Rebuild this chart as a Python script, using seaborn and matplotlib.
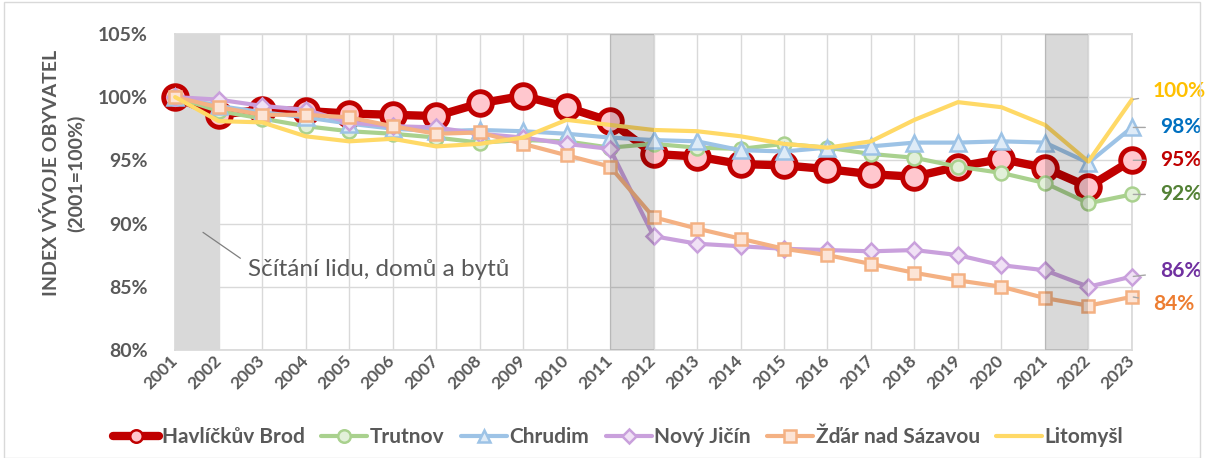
import pandas as pd
import matplotlib.pyplot as plt
import seaborn as sns
from matplotlib.lines import Line2D
from matplotlib.patches import Rectangle

sns.set_theme(style="white")
plt.rcParams['font.family'] = ['Lato', 'DejaVu Sans']

years = list(range(2001, 2024))

havlickuv_brod = [100.0, 98.6, 99.0, 98.9, 98.7, 98.6, 98.5, 99.5, 100.1, 99.2, 98.1,
                  95.5, 95.3, 94.7, 94.6, 94.3, 93.9, 93.7, 94.5, 95.1, 94.4, 92.9, 95.0]
trutnov = [100.0, 98.9, 98.3, 97.7, 97.3, 97.1, 96.8, 96.4, 96.6, 96.5, 96.0,
           96.3, 96.0, 95.9, 96.3, 96.0, 95.5, 95.2, 94.5, 94.0, 93.2, 91.6, 92.3]
chrudim = [100.0, 99.3, 98.8, 98.4, 97.9, 97.5, 97.3, 97.4, 97.3, 97.1, 96.8,
           96.6, 96.5, 95.8, 95.7, 96.0, 96.1, 96.4, 96.4, 96.5, 96.4, 94.8, 97.6]
novy_jicin = [100.0, 99.8, 99.3, 99.0, 98.0, 97.7, 97.6, 97.1, 96.8, 96.3, 95.9,
              89.0, 88.4, 88.2, 88.0, 87.9, 87.8, 87.9, 87.5, 86.7, 86.3, 85.0, 85.8]
zdar = [100.0, 99.2, 98.6, 98.6, 98.4, 97.7, 97.1, 97.2, 96.3, 95.4, 94.5,
        90.5, 89.6, 88.8, 88.0, 87.5, 86.8, 86.1, 85.5, 85.0, 84.1, 83.5, 84.2]
litomysl = [100.0, 98.1, 98.0, 96.9, 96.5, 96.7, 96.1, 96.3, 96.8, 98.2, 97.8,
            97.4, 97.3, 96.9, 96.3, 96.0, 96.5, 98.2, 99.6, 99.2, 97.8, 94.9, 99.8]

census_bands = [(2001, 2002), (2011, 2012), (2021, 2022)]
end_labels = ["95%", "92%", "98%", "86%", "84%", "100%"]

grey = '#595959'
fig = plt.figure(figsize=(12.08, 4.58), dpi=100)
ax = fig.add_axes([0.145, 0.236, 0.792, 0.69])

series = [
    ("Havlíčkův Brod", havlickuv_brod, dict(color='#c00000', marker='o', markersize=17,
        markerfacecolor='#ffc7ce', markeredgecolor='#c00000', markeredgewidth=3.5, linewidth=6),
        '#c00000', (20, 0)),
    ("Trutnov", trutnov, dict(color='#a9d18e', marker='o', markersize=10,
        markerfacecolor='#e2f0d9', markeredgecolor='#a9d18e', markeredgewidth=1.8, linewidth=3),
        '#538135', (20, 0)),
    ("Chrudim", chrudim, dict(color='#9dc3e6', marker='^', markersize=11,
        markerfacecolor='#deebf7', markeredgecolor='#9dc3e6', markeredgewidth=1.8, linewidth=3),
        '#0070c0', (20, 0)),
    ("Nový Jičín", novy_jicin, dict(color='#c9a0dc', marker='D', markersize=8,
        markerfacecolor='#f0e1f5', markeredgecolor='#c9a0dc', markeredgewidth=1.8, linewidth=3),
        '#7030a0', (20, 4)),
    ("Žďár nad Sázavou", zdar, dict(color='#f4b183', marker='s', markersize=9,
        markerfacecolor='#fce4d6', markeredgecolor='#f4b183', markeredgewidth=1.8, linewidth=3),
        '#ed7d31', (15, -5)),
    ("Litomyšl", litomysl, dict(color='#ffd966', linewidth=3),
        '#ffc000', (15, 6)),
]

# first census band sits behind the lines
ax.axvspan(*census_bands[0], color='#d9d9d9', zorder=0.5, lw=0)

for i, (name, vals, style, lab_color, offset) in enumerate(series):
    sns.lineplot(x=years, y=vals, ax=ax, label=name, clip_on=False, zorder=3 + i, **style)

for (name, vals, style, lab_color, offset), txt in zip(series, end_labels):
    ax.annotate(txt, xy=(years[-1], vals[-1]), xytext=offset, textcoords='offset points',
                color=lab_color, fontsize=15, fontweight='bold', va='center', ha='left',
                arrowprops=dict(arrowstyle='-', color='#a6a6a6', lw=1, shrinkA=8, shrinkB=1),
                annotation_clip=False, zorder=20)

# later census bands are laid over the lines
for a, b in census_bands[1:]:
    ax.axvspan(a, b, color='black', alpha=0.15, zorder=15, lw=0)

ax.plot([2001.64, 2002.5], [89.3, 87.25], color='#7f7f7f', lw=0.9, zorder=2)
ax.text(2002.68, 86.4, "Sčítání lidu, domů a bytů", color=grey, fontsize=17.5,
        va='center', ha='left')

ax.set_xlim(2001, 2023)
ax.set_ylim(80, 105)
ax.set_xticks(years)
ax.set_xticklabels([str(y) for y in years], rotation=45, ha='right', va='center',
                   rotation_mode='anchor', fontsize=12.5, fontweight='bold', color=grey)
yt = [80, 85, 90, 95, 100, 105]
ax.set_yticks(yt)
ax.set_yticklabels([f"{v}%" for v in yt], fontsize=14, fontweight='bold', color=grey)
ax.tick_params(axis='y', pad=20, length=0)
ax.tick_params(axis='x', pad=6, length=0)
ax.grid(True, color='#d9d9d9', lw=1)
ax.set_axisbelow(True)
for sp in ax.spines.values():
    sp.set_color('#d9d9d9')
ax.set_xlabel('')
ax.set_ylabel("INDEX VÝVOJE OBYVATEL\n(2001=100%)", fontsize=14, fontweight='bold',
              color=grey, linespacing=1.45)
ax.yaxis.set_label_coords(-0.094, 0.56)

ax.get_legend().remove()
# smaller markers in the legend than on the chart
handles = []
for name, vals, style, lab_color, offset in series:
    st = dict(style)
    if 'marker' in st:
        st['markersize'] = 9 if st['marker'] != 'D' else 7
        st['markeredgewidth'] = 1.8
    handles.append(Line2D([], [], **st))
fig.legend(handles, [s[0] for s in series], loc='center', bbox_to_anchor=(0.512, 0.046),
           ncol=6, frameon=False, handlelength=2.2, columnspacing=0.8, handletextpad=0.12,
           prop=dict(size=15, weight='bold'), labelcolor=grey)

fig.patches.append(Rectangle((0.003, 0.0), 0.99, 0.995, transform=fig.transFigure,
                             fill=False, edgecolor='#d9d9d9', lw=1))

fig.savefig('out.png', dpi=100)
